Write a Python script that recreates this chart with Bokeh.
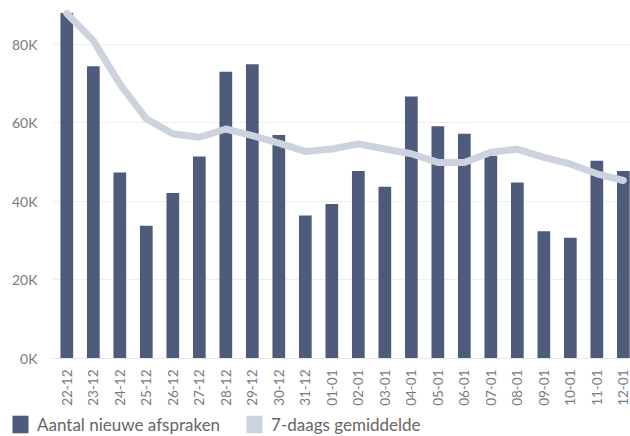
from bokeh.plotting import figure
from bokeh.models import Range1d, FixedTicker, Legend, LegendItem, ColumnDataSource
from bokeh.layouts import column
from bokeh.embed import file_html
from bokeh.resources import INLINE
import math

dates = ["22-12", "23-12", "24-12", "25-12", "26-12", "27-12", "28-12", "29-12", "30-12", "31-12",
         "01-01", "02-01", "03-01", "04-01", "05-01", "06-01", "07-01", "08-01", "09-01", "10-01",
         "11-01", "12-01"]
nieuwe_afspraken = [87900, 74400, 47300, 33800, 42100, 51400, 73000, 74900, 56900, 36400,
                    39300, 47700, 43700, 66700, 59100, 57200, 51600, 44800, 32400, 30700,
                    50300, 47700]
gemiddelde = [87800, 80900, 69900, 61000, 57200, 56300, 58400, 56700, 54800, 52700,
              53300, 54600, 53300, 52100, 49900, 49900, 52500, 53300, 51200, 49500,
              47000, 45300]
y_ticks = [0, 20000, 40000, 60000, 80000]
y_tick_labels = ["0K", "20K", "40K", "60K", "80K"]
series_names = ["Aantal nieuwe afspraken", "7-daags gemiddelde"]

BAR = "#4e5b7b"
LINE = "#cdd3de"
TXT = "#7a7a7a"
FONT = "Lato"

xs = list(range(len(dates)))
src = ColumnDataSource(data=dict(x=xs, bars=nieuwe_afspraken, avg=gemiddelde))

p = figure(width=630, height=410, output_backend="svg", toolbar_location=None,
           x_range=Range1d(-0.54, 21.27), y_range=Range1d(0, 91100),
           min_border_left=52, min_border_right=0, min_border_top=0, min_border_bottom=52)
p.frame_align = False
p.outline_line_color = None
p.background_fill_color = "white"
p.border_fill_color = "white"

p.vbar(x="x", top="bars", width=0.48, bottom=0, source=src, fill_color=BAR, line_color=None)
p.line(x="x", y="avg", source=src, line_color=LINE, line_width=7,
       line_join="round", line_cap="round")

# axes
p.xaxis.ticker = FixedTicker(ticks=xs)
p.xaxis.major_label_overrides = {i: d for i, d in enumerate(dates)}
p.xaxis.major_label_orientation = math.pi / 2
p.xaxis.major_label_standoff = 5
p.xaxis.major_tick_line_color = None
p.xaxis.minor_tick_line_color = None
p.xaxis.axis_line_color = "#e6e6e6"
p.xaxis.major_label_text_font = FONT
p.xaxis.major_label_text_font_size = "13.5px"
p.xaxis.major_label_text_color = TXT

p.yaxis.ticker = FixedTicker(ticks=y_ticks)
p.yaxis.major_label_overrides = {t: l for t, l in zip(y_ticks, y_tick_labels)}
p.yaxis.major_label_standoff = 9
p.yaxis.major_tick_line_color = None
p.yaxis.minor_tick_line_color = None
p.yaxis.axis_line_color = None
p.yaxis.major_label_text_font = FONT
p.yaxis.major_label_text_font_size = "14px"
p.yaxis.major_label_text_color = TXT

p.xgrid.grid_line_color = None
p.ygrid.grid_line_color = "#efefef"
p.ygrid.grid_line_width = 1

# legend strip (square colour swatches as in the reference)
pl = figure(width=630, height=26, output_backend="svg", toolbar_location=None,
            x_range=Range1d(0, 1), y_range=Range1d(0, 1),
            x_axis_location=None, y_axis_location=None,
            min_border_left=0, min_border_right=0, min_border_top=0, min_border_bottom=0)
pl.frame_align = False
pl.grid.visible = False
pl.outline_line_color = None
pl.background_fill_color = "white"
pl.border_fill_color = "white"
# zero-height swatch renderers (draw nothing; only feed the legend glyphs)
sw1 = pl.vbar(x=[0.5], top=[0], bottom=[0], width=0, fill_color=BAR, line_color=None)
sw2 = pl.vbar(x=[0.5], top=[0], bottom=[0], width=0, fill_color=LINE, line_color=None)
legend = Legend(items=[LegendItem(label=series_names[0], renderers=[sw1]),
                       LegendItem(label=series_names[1], renderers=[sw2])],
                location=(10, 1), orientation="horizontal",
                margin=0, padding=0, spacing=24, label_standoff=7,
                glyph_width=20, glyph_height=22,
                label_text_font=FONT, label_text_font_size="17px", label_text_color="#666666",
                border_line_color=None, background_fill_alpha=0)
pl.add_layout(legend)

layout = column(p, pl, spacing=0)
open("out.html", "w").write(file_html(layout, INLINE))
